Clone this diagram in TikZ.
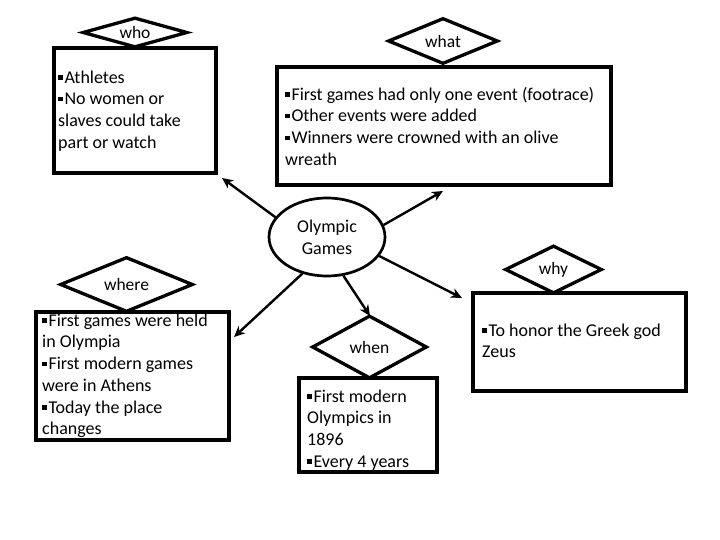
\documentclass[tikz,border=0pt]{standalone}
\usepackage{fontspec}
\setmainfont{Carlito}
\usetikzlibrary{shapes.geometric,arrows.meta}
\newcommand\bul{\raisebox{0.19em}{\rule{0.25em}{0.25em}}\hspace{0.1em}}
\tikzset{
  infobox/.style={draw, line width=3.3pt, rectangle, inner sep=0pt, fill=white},
  qdiamond/.style={draw, line width=3.3pt, diamond, inner sep=0pt, fill=white, font=\fontsize{17.5}{20}\selectfont},
  btext/.style={anchor=north west, align=left, inner sep=0pt, font=\fontsize{18}{21.7}\selectfont},
  conn/.style={line width=2.4pt, -{Stealth[length=11pt,width=10pt]}},
}
\begin{document}
\begin{tikzpicture}[x=1pt,y=-1pt]
\useasboundingbox (0,0) rectangle (720,540);
% boxes
\node[infobox, minimum width=162pt, minimum height=125pt] (whobox) at (135,110.5) {};
\node[infobox, minimum width=334pt, minimum height=118pt] (whatbox) at (444,126) {};
\node[infobox, minimum width=193pt, minimum height=128pt] (wherebox) at (132.5,376) {};
\node[infobox, minimum width=138pt, minimum height=94pt] (whenbox) at (368,425) {};
\node[infobox, minimum width=213pt, minimum height=98pt] (whybox) at (579.5,342) {};
% diamonds
\node[qdiamond, minimum width=105pt, minimum height=30pt, aspect=3.5] (who) at (135,32.5) {who};
\node[qdiamond, minimum width=110pt, minimum height=46pt, aspect=2.4] (what) at (443,41) {what};
\node[qdiamond, minimum width=133pt, minimum height=55pt, aspect=2.4] (where) at (126.5,284.5) {where};
\node[qdiamond, minimum width=115pt, minimum height=63pt, aspect=1.8] (when) at (369.5,347) {when};
\node[qdiamond, minimum width=97pt, minimum height=48pt, aspect=2] (why) at (553.5,269.5) {why};
% texts
\node[btext] (whotext) at (58,68) {\rule{0pt}{15pt}\bul Athletes\\\bul No women or\\slaves could take\\part or watch};
\node[btext] (whattext) at (285,85) {\rule{0pt}{15pt}\bul First games had only one event (footrace)\\\bul Other events were added\\\bul Winners were crowned with an olive\\wreath};
\node[btext] (wheretext) at (42,311) {\rule{0pt}{15pt}\bul First games were held\\in Olympia\\\bul First modern games\\were in Athens\\\bul Today the place\\changes};
\node[btext] (whentext) at (307,387) {\rule{0pt}{15pt}\bul First modern\\Olympics in\\1896\\\bul Every 4 years};
\node[btext] (whytext) at (482,321) {\rule{0pt}{15pt}\bul To honor the Greek god\\Zeus};
% centre
\node[draw, ellipse, line width=2.7pt, minimum width=116pt, minimum height=78pt, inner sep=0pt, align=center, font=\fontsize{18}{21.7}\selectfont] (og) at (327,237) {Olympic\\Games};
% arrow ends
\coordinate (ewho) at (222,178);
\coordinate (ewhat) at (443,191);
\coordinate (ewhy) at (462,298);
\coordinate (ewhere) at (234,337);
\coordinate (ewhen) at (370,316);
\draw[conn] (og.159) -- (ewho);
\draw[conn] (og.12) -- (ewhat);
\draw[conn] (og.-20) -- (ewhy);
\draw[conn] (og.236) -- (ewhere);
\draw[conn] (og.-67) -- (ewhen);
\end{tikzpicture}
\end{document}
